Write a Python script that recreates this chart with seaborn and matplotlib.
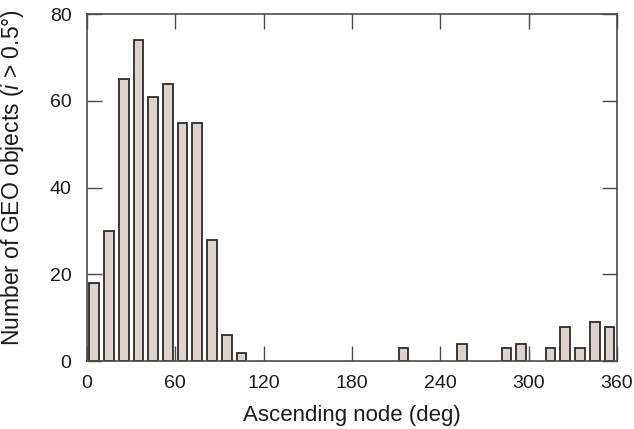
import numpy as np
import pandas as pd
import matplotlib
matplotlib.use("Agg")
import matplotlib.pyplot as plt
import seaborn as sns

# Counts of GEO objects per 10-degree bin of ascending node
bin_centers = [5, 15, 25, 35, 45, 55, 65, 75, 85, 95, 105,
               215, 255, 285, 295, 315, 325, 335, 345, 355]
counts = [18, 30, 65, 74, 61, 64, 55, 55, 28, 6, 2,
          3, 4, 3, 4, 3, 8, 3, 9, 8]
bin_edges = list(range(0, 370, 10))
x_ticks = [0, 60, 120, 180, 240, 300, 360]
y_ticks = [0, 20, 40, 60, 80]

edge = "#4a4a4a"
sns.set_theme(style="ticks", rc={
    "axes.axisbelow": False,
    "axes.edgecolor": edge,
    "axes.linewidth": 1.2,
    "xtick.direction": "in", "ytick.direction": "in",
    "xtick.top": True, "xtick.bottom": True,
    "ytick.left": True, "ytick.right": True,
    "xtick.major.size": 11, "ytick.major.size": 11,
    "xtick.major.width": 1.0, "ytick.major.width": 1.0,
    "xtick.color": edge, "ytick.color": edge,
    "xtick.labelcolor": "#1a1a1a", "ytick.labelcolor": "#1a1a1a",
    "xtick.labelsize": 14, "ytick.labelsize": 14,
    "xtick.major.pad": 10, "ytick.major.pad": 11,
})
plt.rcParams["font.family"] = ["Liberation Sans", "DejaVu Sans"]
plt.rcParams["mathtext.fontset"] = "custom"
plt.rcParams["mathtext.it"] = "Liberation Sans:italic"
plt.rcParams["mathtext.rm"] = "Liberation Sans"

df = pd.DataFrame({"node": bin_centers, "count": counts})

fig = plt.figure(figsize=(6.34, 4.29), dpi=100)
ax = fig.add_axes([0.137, 0.158, 0.836, 0.809])

sns.histplot(data=df, x="node", weights="count", bins=bin_edges,
             shrink=0.66, color="#dfd3cd", alpha=1.0,
             edgecolor="#2b2b2b", linewidth=1.3, ax=ax)

# empty bins would otherwise leave a flat outline along the baseline
for p in list(ax.patches):
    if p.get_height() == 0:
        p.remove()

ax.set_xlim(0, 360)
ax.set_ylim(0, 80)
ax.set_xticks(x_ticks)
ax.set_yticks(y_ticks)
sns.despine(ax=ax, top=False, right=False, left=False, bottom=False)

ax.set_xlabel("Ascending node (deg)", fontsize=16, color="#1a1a1a", labelpad=9)
ax.set_ylabel(r"Number of GEO objects ($i$ > 0.5°)", fontsize=16.5,
              color="#1a1a1a")
ax.yaxis.set_label_coords(-0.115, 0.53)

fig.savefig("out.png", dpi=100)
